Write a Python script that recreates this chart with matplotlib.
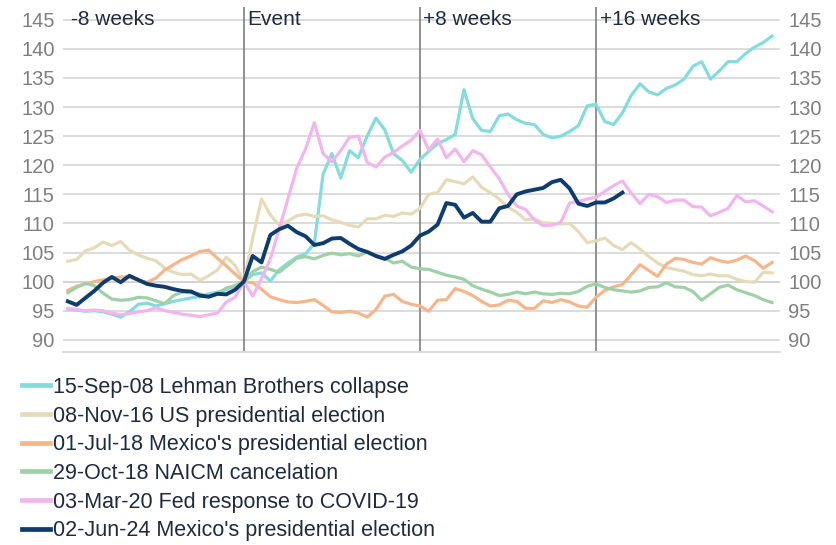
import numpy as np
import matplotlib
matplotlib.use("Agg")
import matplotlib.pyplot as plt
from matplotlib.lines import Line2D

plt.rcParams['font.family'] = ['Liberation Sans', 'DejaVu Sans']

# trading days relative to event (5 trading days per week)
days = np.arange(-40, 121, 2)

lehman = [95.3, 95.1, 94.9, 95.0, 94.8, 94.4, 93.9, 94.8, 96.1, 96.3,
          95.8, 96.2, 96.6, 96.9, 97.2, 97.4, 97.9, 98.2, 98.6, 99.3,
          100.0, 101.2, 101.5, 100.1, 102.0, 103.2, 104.2, 104.8, 106.5, 118.5,
          122.0, 117.8, 122.5, 121.3, 125.0, 128.1, 126.1, 122.0, 120.8, 118.8,
          121.0, 122.4, 123.7, 124.4, 125.3, 133.0, 128.0, 126.0, 125.8, 128.5,
          128.8, 127.8, 127.2, 127.0, 125.3, 124.7, 125.0, 125.8, 126.8, 130.2,
          130.5, 127.5, 127.0, 129.0, 132.0, 134.0, 132.6, 132.1, 133.2, 133.8,
          134.8, 137.0, 137.8, 134.8, 136.2, 137.8, 137.8, 139.2, 140.3, 141.1,
          142.2]

us_election = [103.5, 103.8, 105.3, 105.8, 106.8, 106.2, 106.9, 105.4, 104.6, 104.0,
               103.6, 102.3, 101.6, 101.2, 101.3, 100.2, 101.0, 102.0, 104.2, 102.8,
               100.0, 107.5, 114.2, 111.5, 109.7, 110.4, 111.3, 111.6, 111.2, 111.3,
               110.6, 110.2, 109.7, 109.4, 110.8, 110.8, 111.4, 111.2, 111.8, 111.6,
               112.6, 115.0, 115.3, 117.5, 117.2, 116.8, 118.0, 116.2, 115.3, 114.2,
               112.8, 111.9, 110.6, 110.8, 110.1, 110.0, 109.9, 110.0, 108.6, 106.7,
               107.0, 107.5, 106.2, 105.5, 106.7, 105.6, 104.3, 103.2, 102.4, 102.1,
               101.8, 101.2, 101.0, 101.3, 101.0, 101.0, 100.4, 100.0, 99.9, 101.6,
               101.5]

mex_2018 = [98.5, 99.2, 99.6, 100.0, 100.3, 100.6, 100.8, 100.8, 100.2, 99.9,
            100.6, 102.0, 102.9, 103.8, 104.4, 105.2, 105.4, 104.0, 102.7, 101.3,
            100.0, 99.8, 98.7, 97.4, 96.9, 96.5, 96.4, 96.6, 96.9, 95.9,
            94.8, 94.7, 94.9, 94.6, 93.9, 95.2, 97.5, 97.8, 96.6, 96.1,
            95.8, 94.9, 96.8, 96.9, 98.8, 98.3, 97.6, 96.6, 95.8, 96.0,
            96.8, 96.6, 95.4, 95.4, 96.7, 96.4, 96.9, 96.5, 95.8, 95.6,
            97.3, 98.5, 99.1, 99.5, 101.2, 102.9, 101.9, 100.9, 103.0, 104.0,
            103.8, 103.3, 103.0, 104.1, 103.6, 103.3, 103.7, 104.4, 103.6, 102.3,
            103.3]

naicm = [98.1, 99.0, 99.7, 99.3, 98.0, 97.0, 96.8, 96.9, 97.3, 97.2,
         96.7, 96.2, 97.6, 98.2, 98.1, 97.9, 97.4, 97.9, 98.9, 99.3,
         100.0, 101.7, 102.5, 102.1, 101.6, 102.8, 104.0, 104.3, 103.9, 104.5,
         104.9, 104.6, 104.8, 104.4, 105.1, 104.5, 104.0, 103.2, 103.5, 102.5,
         102.2, 102.1, 101.6, 101.1, 100.8, 100.4, 99.3, 98.7, 98.2, 97.6,
         97.8, 98.2, 97.9, 98.2, 97.9, 97.8, 98.0, 97.9, 98.3, 99.2,
         99.6, 99.0, 98.6, 98.4, 98.2, 98.4, 99.0, 99.1, 99.8, 99.1,
         99.0, 98.3, 96.8, 97.9, 99.0, 99.4, 98.6, 98.1, 97.6, 96.9,
         96.4]

covid = [95.4, 95.2, 95.0, 95.1, 95.0, 94.6, 94.3, 94.5, 94.8, 95.0,
         95.5, 95.0, 94.7, 94.4, 94.2, 94.0, 94.3, 94.6, 96.5, 97.3,
         100.0, 97.5, 100.5, 103.9, 109.0, 114.2, 119.5, 122.8, 127.3, 122.0,
         120.6, 122.5, 124.8, 125.0, 120.5, 119.7, 121.4, 122.2, 123.3, 124.3,
         126.0, 122.6, 124.5, 121.3, 122.8, 120.6, 122.5, 121.8, 119.7, 117.7,
         115.0, 113.0, 112.4, 110.6, 109.6, 109.7, 110.2, 113.5, 113.8, 114.2,
         114.5, 115.5, 116.5, 117.3, 115.2, 113.4, 115.0, 114.6, 113.6, 114.0,
         114.0, 112.9, 112.8, 111.3, 111.9, 112.6, 114.8, 113.7, 113.9, 113.0,
         112.0]

mex_2024 = [96.6, 96.0, 97.2, 98.4, 99.8, 100.8, 99.9, 101.0, 100.3, 99.6,
            99.3, 99.1, 98.7, 98.4, 98.3, 97.6, 97.4, 97.9, 97.8, 98.6,
            100.0, 104.4, 103.3, 108.0, 109.0, 109.6, 108.5, 107.8, 106.3, 106.6,
            107.4, 107.5, 106.5, 105.6, 105.1, 104.4, 103.9, 104.6, 105.2, 106.2,
            107.9, 108.6, 109.8, 113.5, 113.2, 111.0, 111.8, 110.3, 110.3, 112.6,
            113.0, 115.0, 115.5, 115.8, 116.1, 117.1, 117.5, 116.0, 113.4, 113.0,
            113.6, 113.6, 114.3, 115.3]

series_labels = ["15-Sep-08 Lehman Brothers collapse",
                 "08-Nov-16 US presidential election",
                 "01-Jul-18 Mexico's presidential election",
                 "29-Oct-18 NAICM cancelation",
                 "03-Mar-20 Fed response to COVID-19",
                 "02-Jun-24 Mexico's presidential election"]
series_values = [lehman, us_election, mex_2018, naicm, covid, mex_2024]
series_colors = ["#84DCDC", "#E6DBB9", "#F5B68C", "#9ED2A6", "#F3B5EE", "#0E3C6E"]
series_widths = [2.3, 2.3, 2.3, 2.3, 2.3, 2.8]

week_marks = [-8, 0, 8, 16]
week_labels = ["-8 weeks", "Event", "+8 weeks", "+16 weeks"]
yticks = list(range(90, 146, 5))

fig = plt.figure(figsize=(8.37, 5.45), dpi=100)
ax = fig.add_axes([63/837, 1-352/545, (780-63)/837, (352-7)/545])

for vals, lab, col, lw in zip(series_values, series_labels, series_colors, series_widths):
    ax.plot(days[:len(vals)], vals, color=col, lw=lw, label=lab, zorder=3,
            solid_joinstyle='round')

ax.set_xlim(-41.1, 121.8)
ax.set_ylim(87.9, 147.2)
ax.set_yticks(yticks)
ax.set_xticks([])
ax.grid(axis='y', color='#d9d9d9', lw=1.3, zorder=0)
ax.axhline(100, color='#7f7f7f', lw=1.1, zorder=1)
for w, lab in zip(week_marks, week_labels):
    d = w * 5
    if w != -8:
        ax.axvline(d, color='#7f7f7f', lw=1.2, zorder=2)
    ax.text(d + 0.8, 145, lab, fontsize=15, color='#1f2a3c', va='center', ha='left',
            zorder=4)

for s in ['top', 'left', 'right']:
    ax.spines[s].set_visible(False)
ax.spines['bottom'].set_color('#d9d9d9')
ax.spines['bottom'].set_linewidth(1.3)
ax.tick_params(axis='y', length=0, labelsize=14.5, labelcolor='#7f7f7f',
               labelright=True, pad=6)

handles = [Line2D([0], [0], color=c, lw=3.4) for c in series_colors]
leg = fig.legend(handles, series_labels, loc='upper left',
                 bbox_to_anchor=(22/837, 1-377/545), frameon=False,
                 fontsize=15.5, handlelength=1.3, handletextpad=0.12,
                 labelspacing=0.355, borderaxespad=0, borderpad=0)
for t in leg.get_texts():
    t.set_color('#1f2a3c')

fig.savefig("out.png", dpi=100)
